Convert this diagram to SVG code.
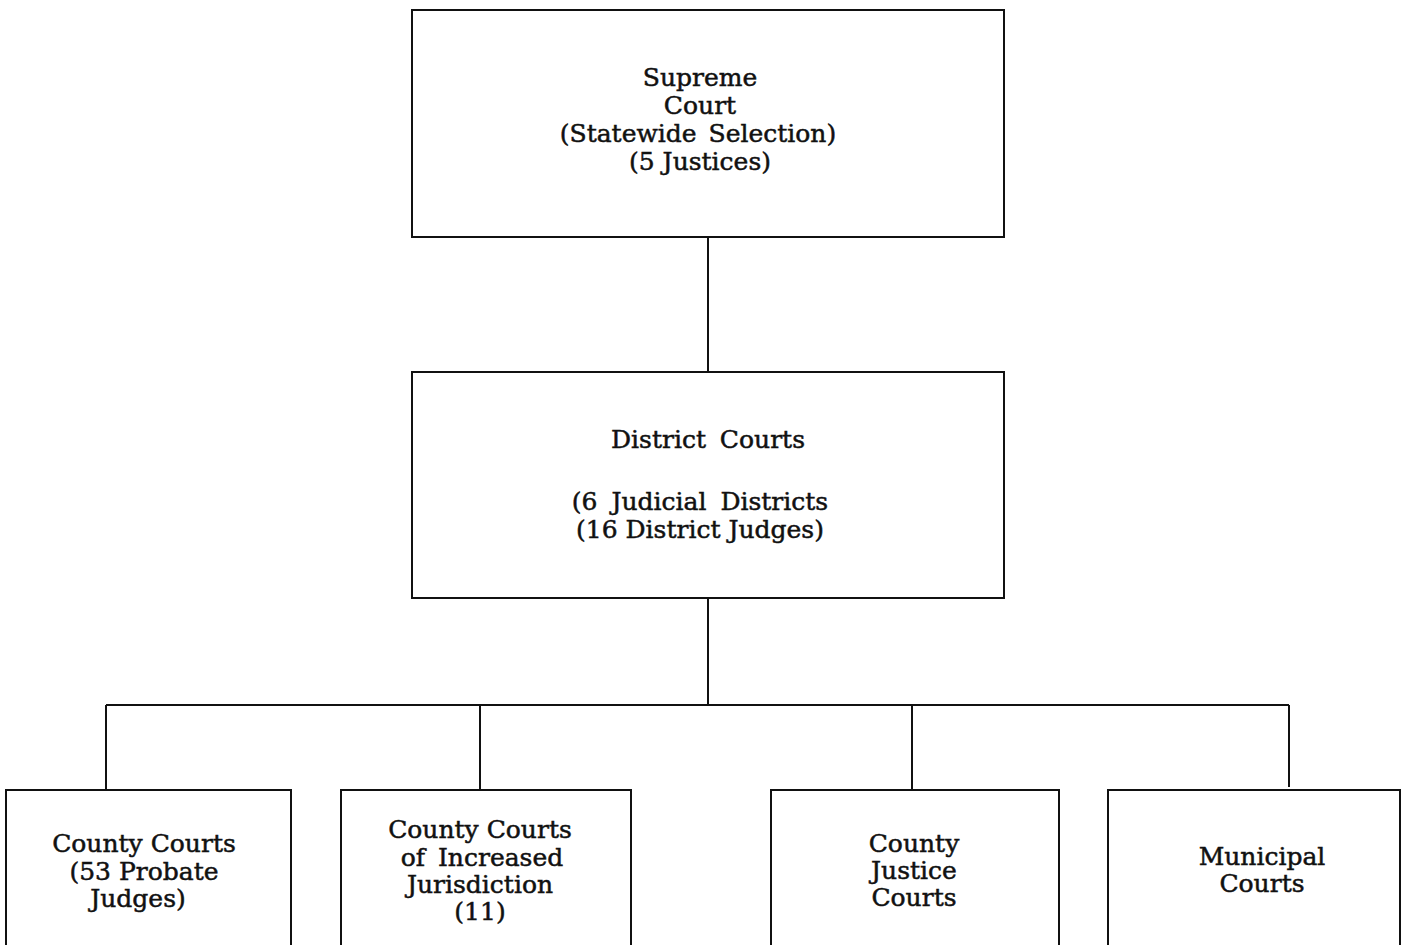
<svg xmlns="http://www.w3.org/2000/svg" width="1408" height="945" viewBox="0 0 1408 945">
<style>
.box{fill:#fff;stroke:#111;stroke-width:2}
.ln{stroke:#111;stroke-width:2;fill:none}
text{font-family:"DejaVu Serif","Liberation Serif",serif;font-size:25px;fill:#111;stroke:#111;stroke-width:0.5;text-anchor:middle}
</style>
<rect width="1408" height="945" fill="#fff"/>
<g id="connectors">
<line class="ln" x1="708" y1="237" x2="708" y2="372"/>
<line class="ln" x1="708" y1="598" x2="708" y2="705"/>
<line class="ln" x1="106" y1="705" x2="1289" y2="705"/>
<line class="ln" x1="106" y1="705" x2="106" y2="790"/>
<line class="ln" x1="480" y1="705" x2="480" y2="790"/>
<line class="ln" x1="912" y1="705" x2="912" y2="790"/>
<line class="ln" x1="1289" y1="705" x2="1289" y2="787"/>
</g>
<g id="supreme">
<rect class="box" x="412" y="10" width="592" height="227"/>
<text x="700" y="86">Supreme</text>
<text x="700" y="114">Court</text>
<text x="698" y="142" word-spacing="4">(Statewide Selection)</text>
<text x="700" y="170">(5 Justices)</text>
</g>
<g id="district">
<rect class="box" x="412" y="372" width="592" height="226"/>
<text x="708" y="448" word-spacing="6">District Courts</text>
<text x="700" y="510" word-spacing="6">(6 Judicial Districts</text>
<text x="700" y="538">(16 District Judges)</text>
</g>
<g id="county">
<rect class="box" x="6" y="790" width="285" height="170"/>
<text x="144" y="852">County Courts</text>
<text x="144" y="880">(53 Probate</text>
<text x="138" y="907">Judges)</text>
</g>
<g id="increased">
<rect class="box" x="341" y="790" width="290" height="170"/>
<text x="480" y="838">County Courts</text>
<text x="482" y="866" word-spacing="5">of Increased</text>
<text x="480" y="893">Jurisdiction</text>
<text x="480" y="920">(11)</text>
</g>
<g id="justice">
<rect class="box" x="771" y="790" width="288" height="170"/>
<text x="914" y="852">County</text>
<text x="914" y="879">Justice</text>
<text x="914" y="906">Courts</text>
</g>
<g id="municipal">
<rect class="box" x="1108" y="790" width="292" height="170"/>
<text x="1262" y="865">Municipal</text>
<text x="1262" y="892">Courts</text>
</g>
</svg>
